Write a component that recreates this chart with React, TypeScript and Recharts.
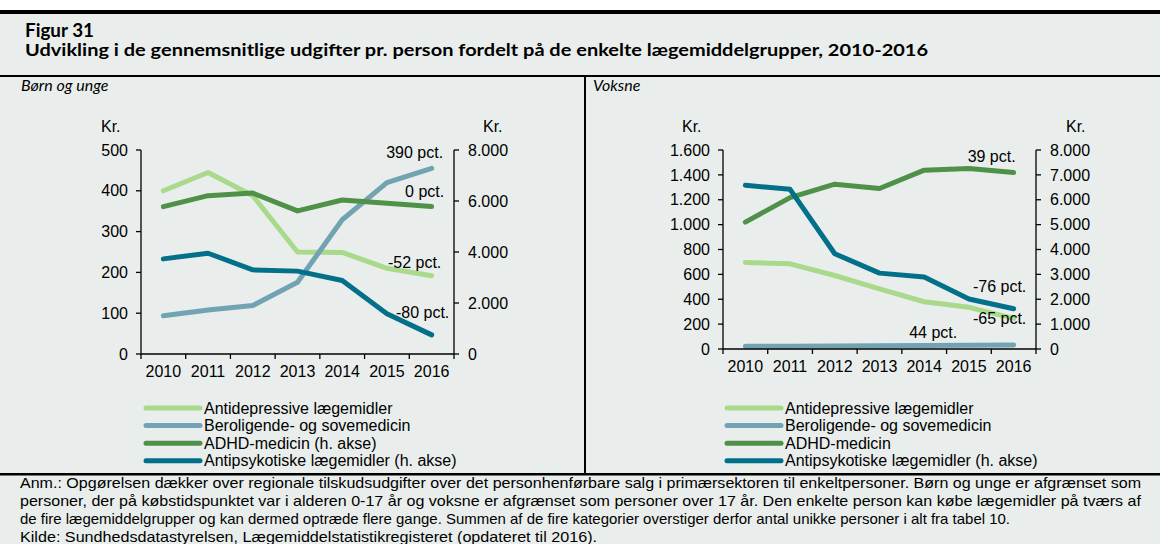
import { LineChart, Line, XAxis, YAxis } from "recharts"

const years = ["2010", "2011", "2012", "2013", "2014", "2015", "2016"]

// Børn og unge
const childAntidep = [400, 445, 388, 250, 249, 210, 192]
const childBerolig = [94, 108, 119, 176, 329, 420, 455]
const childAdhd = [5780, 6210, 6310, 5610, 6040, 5910, 5780]
const childAntipsyk = [3730, 3950, 3300, 3250, 2880, 1580, 750]
const childPct = ["-52 pct.", "390 pct.", "0 pct.", "-80 pct."]

// Voksne
const adultAntidep = [696, 685, 591, 483, 380, 335, 246]
const adultBerolig = [22, 23, 25, 26, 28, 30, 32]
const adultAdhd = [5100, 6085, 6625, 6450, 7190, 7260, 7095]
const adultAntipsyk = [6585, 6420, 3830, 3050, 2890, 2010, 1620]
const adultPct = ["-65 pct.", "44 pct.", "39 pct.", "-76 pct."]

const childTicksL = [0, 100, 200, 300, 400, 500]
const childTicksR = [0, 2000, 4000, 6000, 8000]
const adultTicksL = [0, 200, 400, 600, 800, 1000, 1200, 1400, 1600]
const adultTicksR = [0, 1000, 2000, 3000, 4000, 5000, 6000, 7000, 8000]

const legendChild = [
  "Antidepressive lægemidler",
  "Beroligende- og sovemedicin",
  "ADHD-medicin (h. akse)",
  "Antipsykotiske lægemidler (h. akse)",
]
const legendAdult = [
  "Antidepressive lægemidler",
  "Beroligende- og sovemedicin",
  "ADHD-medicin",
  "Antipsykotiske lægemidler (h. akse)",
]

const noteLines = [
  "Anm.: Opgørelsen dækker over regionale tilskudsudgifter over det personhenførbare salg i primærsektoren til enkeltpersoner. Børn og unge er afgrænset som",
  "personer, der på købstidspunktet var i alderen 0-17 år og voksne er afgrænset som personer over 17 år. Den enkelte person kan købe lægemidler på tværs af",
  "de fire lægemiddelgrupper og kan dermed optræde flere gange. Summen af de fire kategorier overstiger derfor antal unikke personer i alt fra tabel 10.",
  "Kilde: Sundhedsdatastyrelsen, Lægemiddelstatistikregisteret (opdateret til 2016).",
]

const colors = ["#a9d98b", "#72a3b3", "#4f9148", "#03708a"]
const FONT = "'Liberation Sans', Arial, sans-serif"
const BG = "#e9eeec"
const FS = 16

const fmt = (n: number) => String(n).replace(/\B(?=(\d{3})+(?!\d))/g, ".")

const toRows = (a: number[], b: number[], c: number[], d: number[]) =>
  years.map((y, i) => ({ x: i + 0.5, year: y, a: a[i], b: b[i], c: c[i], d: d[i] }))

const makeTick = (band: number) => (props: any) => {
  const { x, y, payload } = props
  const i = payload.value
  if (i >= years.length) return <g />
  return (
    <text x={x + band / 2} y={y} dy="0.71em" textAnchor="middle" fill="#000" fontSize={FS} fontFamily={FONT}>
      {years[i]}
    </text>
  )
}

const pctLabel = (idx: number, text: string, dx: number, dy: number) => (props: any) => {
  if (props.index !== idx) return <g />
  return (
    <text x={props.x + dx} y={props.y + dy} textAnchor="middle" dominantBaseline="central" fill="#000" fontSize={FS} fontFamily={FONT}>
      {text}
    </text>
  )
}

const tickStyle = { fill: "#000", fontSize: FS, fontFamily: FONT }

type PanelProps = {
  rows: any[]
  width: number
  height: number
  margin: { top: number; right: number; bottom: number; left: number }
  leftMax: number
  leftTicks: number[]
  rightTicks: number[]
  pct: string[]
  pctPos: [number, number, number][]
}

function Panel({ rows, width, height, margin, leftMax, leftTicks, rightTicks, pct, pctPos }: PanelProps) {
  const band = (width - margin.left - margin.right - 120) / years.length
  const keys = ["a", "b", "c", "d"]
  return (
    <LineChart width={width} height={height} data={rows} margin={margin}>
      <XAxis
        dataKey="x"
        type="number"
        domain={[0, years.length]}
        ticks={[0, 1, 2, 3, 4, 5, 6, 7]}
        tick={makeTick(band)}
        tickSize={5}
        tickMargin={7}
        height={30}
        axisLine={{ stroke: "#000", strokeWidth: 1.3 }}
        tickLine={{ stroke: "#000", strokeWidth: 1.3 }}
      />
      <YAxis
        yAxisId="l"
        domain={[0, leftMax]}
        ticks={leftTicks}
        tickFormatter={fmt}
        width={60}
        tickSize={5}
        tickMargin={8}
        tick={tickStyle}
        axisLine={{ stroke: "#000", strokeWidth: 1.3 }}
        tickLine={{ stroke: "#000", strokeWidth: 1.3 }}
      />
      <YAxis
        yAxisId="r"
        orientation="right"
        domain={[0, 8000]}
        ticks={rightTicks}
        tickFormatter={fmt}
        width={60}
        tickSize={5}
        tickMargin={9}
        tick={{ ...tickStyle, textAnchor: "start" }}
        axisLine={{ stroke: "#000", strokeWidth: 1.3 }}
        tickLine={{ stroke: "#000", strokeWidth: 1.3 }}
      />
      {keys.map((k, i) => (
        <Line
          key={k}
          yAxisId={i < 2 ? "l" : "r"}
          dataKey={k}
          type="linear"
          stroke={colors[i]}
          strokeWidth={5}
          strokeLinecap="round"
          strokeLinejoin="round"
          dot={false}
          isAnimationActive={false}
          label={pctLabel(pctPos[i][0], pct[i], pctPos[i][1], pctPos[i][2])}
        />
      ))}
    </LineChart>
  )
}

function Legend({ x, y, items }: { x: number; y: number; items: string[] }) {
  return (
    <g>
      {items.map((t, i) => {
        const cy = y + i * 17.6
        return (
          <g key={t}>
            <line x1={x} x2={x + 54} y1={cy} y2={cy} stroke={colors[i]} strokeWidth={5} strokeLinecap="round" />
            <text x={x + 58} y={cy + 5.5} fontSize={FS} fontFamily={FONT} fill="#000">
              {t}
            </text>
          </g>
        )
      })}
    </g>
  )
}

export default function App() {
  const childRows = toRows(childAntidep, childBerolig, childAdhd, childAntipsyk)
  const adultRows = toRows(adultAntidep, adultBerolig, adultAdhd, adultAntipsyk)
  const noteWidths = [1121, 1121, 990, 577]

  return (
    <div style={{ position: "absolute", left: 0, top: 0, width: 1160, height: 544, overflow: "hidden", background: "#fff" }}>
      <svg width={1160} height={544} style={{ position: "absolute", left: 0, top: 0 }}>
        <rect x={0} y={14} width={1160} height={530} fill={BG} />
        <rect x={0} y={10} width={1160} height={4} fill="#000" />
        <rect x={0} y={75} width={1160} height={2} fill="#000" />
        <rect x={584} y={77} width={2} height={396} fill="#000" />
        <rect x={0} y={473} width={1160} height={2.5} fill="#000" />
        <text x={25} y={37} fontFamily="Lato, sans-serif" fontWeight="bold" fontSize={18} fill="#000" textLength={69} lengthAdjust="spacingAndGlyphs">
          Figur 31
        </text>
        <text x={25} y={56} fontFamily="Lato, sans-serif" fontWeight="bold" fontSize={17.5} fill="#000" textLength={903} lengthAdjust="spacingAndGlyphs">
          Udvikling i de gennemsnitlige udgifter pr. person fordelt på de enkelte lægemiddelgrupper, 2010-2016
        </text>
        <text x={21} y={91} fontFamily="Lato, sans-serif" fontStyle="italic" fontSize={16} fill="#000">
          Børn og unge
        </text>
        <text x={593} y={91} fontFamily="Lato, sans-serif" fontStyle="italic" fontSize={16} fill="#000">
          Voksne
        </text>
        {[101, 483, 682, 1066].map((kx) => (
          <text key={kx} x={kx} y={132} fontFamily={FONT} fontSize={FS} fill="#000">
            Kr.
          </text>
        ))}
        <Legend x={146} y={408} items={legendChild} />
        <Legend x={727} y={408} items={legendAdult} />
        {noteLines.map((t, i) => (
          <text
            key={i}
            x={20}
            y={488 + i * 18}
            fontFamily="'Liberation Sans Narrow', 'Liberation Sans', Arial, sans-serif"
            fontSize={14.5}
            fill="#000"
            textLength={noteWidths[i]}
            lengthAdjust="spacingAndGlyphs"
          >
            {t}
          </text>
        ))}
      </svg>
      <div style={{ position: "absolute", left: 0, top: 110 }}>
        <Panel
          rows={childRows}
          width={580}
          height={280}
          margin={{ top: 40, right: 66, bottom: 6, left: 81 }}
          leftMax={500}
          leftTicks={childTicksL}
          rightTicks={childTicksR}
          pct={childPct}
          pctPos={[
            [6, -17, -13],
            [6, -17, -16],
            [6, -7, -15],
            [6, -9, -22],
          ]}
        />
      </div>
      <div style={{ position: "absolute", left: 585, top: 110 }}>
        <Panel
          rows={adultRows}
          width={575}
          height={275}
          margin={{ top: 40, right: 64, bottom: 6, left: 78 }}
          leftMax={1600}
          leftTicks={adultTicksL}
          rightTicks={adultTicksR}
          pct={adultPct}
          pctPos={[
            [6, -14, 0],
            [4, 9, -13],
            [6, -22, -16],
            [6, -14, -22],
          ]}
        />
      </div>
    </div>
  )
}
